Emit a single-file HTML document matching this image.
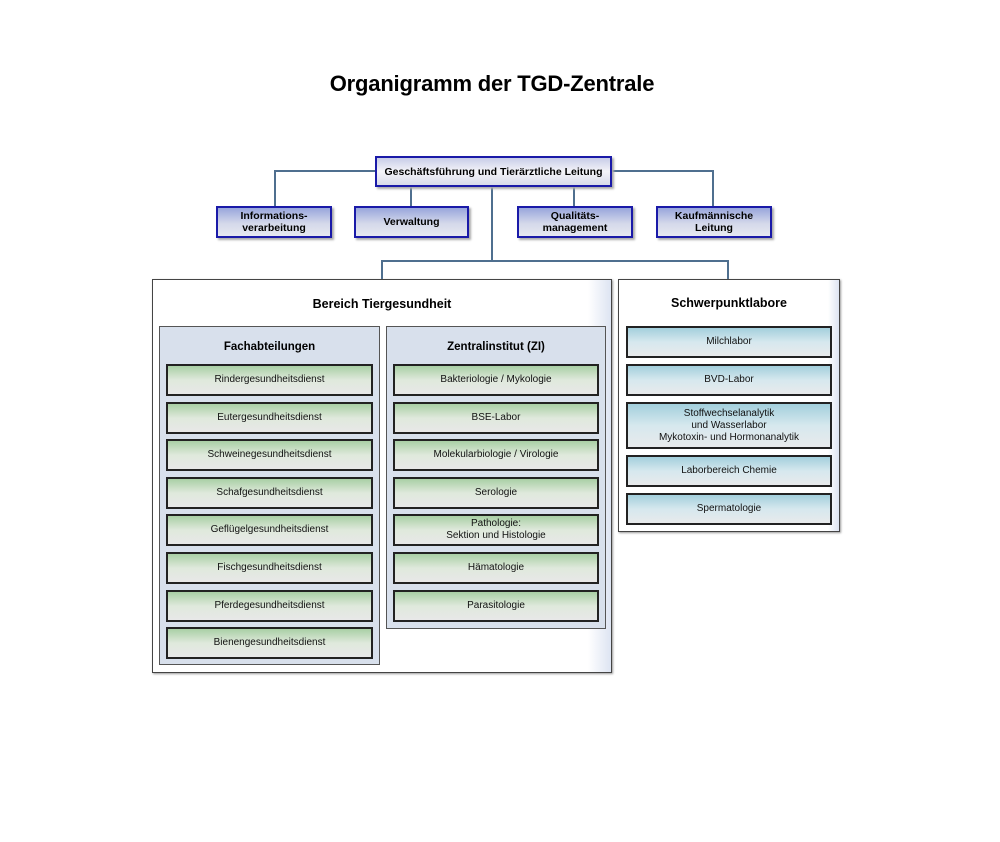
<!DOCTYPE html>
<html><head><meta charset="utf-8"><style>
body{margin:0;width:1000px;height:842px;background:#fff;position:relative;font-family:"Liberation Sans",Arial,sans-serif;overflow:hidden}
div{position:absolute;box-sizing:border-box}
.t{left:-8px;width:1000px;top:71px;text-align:center;font-weight:bold;font-size:22px;color:#000;letter-spacing:-0.2px}
.l{background:#4f6f8f}
.b{border:2px solid #1a1aa8;background:linear-gradient(#98a6dc,#d4d8ea 55%,#e6e8f0);display:flex;align-items:center;justify-content:center;text-align:center;font-weight:bold;font-size:10.5px;line-height:12px;box-shadow:2px 2px 2px #aaa}
.top{background:linear-gradient(#c8cde8,#f4f4f8 50%,#d8dbea)}
.c{border:1px solid #444;background:linear-gradient(90deg,#fff,#fff 95%,#dde4f2);box-shadow:1px 1px 2px #999}
.s{border:1px solid #555;background:#d8e0ec}
.h{font-weight:bold;font-size:12.5px;text-align:center}
.g,.u{border:2px solid #222;display:flex;align-items:center;justify-content:center;text-align:center;font-size:10px;line-height:12px;color:#111}
.g{background:linear-gradient(#a9cfa5,#dfe9dc 50%,#e8e8e8)}
.u{background:linear-gradient(#a3cfdc,#d6e8ee 50%,#e8eaec)}
</style></head><body>
<div class="t">Organigramm der TGD-Zentrale</div>
<div class="l" style="left:275px;top:170px;width:439px;height:1.5px"></div>
<div class="l" style="left:274px;top:170px;width:1.5px;height:37px"></div>
<div class="l" style="left:712px;top:170px;width:1.5px;height:37px"></div>
<div class="l" style="left:410px;top:185px;width:1.5px;height:22px"></div>
<div class="l" style="left:573px;top:185px;width:1.5px;height:22px"></div>
<div class="l" style="left:491px;top:185px;width:1.5px;height:76px"></div>
<div class="l" style="left:382px;top:260px;width:347px;height:1.5px"></div>
<div class="l" style="left:381px;top:260px;width:1.5px;height:20px"></div>
<div class="l" style="left:727px;top:260px;width:1.5px;height:20px"></div>

<div class="b top" style="left:375px;top:156px;width:237px;height:31px">Geschäftsführung und Tierärztliche Leitung</div>
<div class="b" style="left:216px;top:206px;width:116px;height:32px">Informations-<br>verarbeitung</div>
<div class="b" style="left:354px;top:206px;width:115px;height:32px">Verwaltung</div>
<div class="b" style="left:517px;top:206px;width:116px;height:32px">Qualitäts-<br>management</div>
<div class="b" style="left:656px;top:206px;width:116px;height:32px">Kaufmännische<br>Leitung</div>

<div class="c" style="left:152px;top:279px;width:460px;height:394px"></div>
<div class="h" style="left:152px;top:297px;width:460px">Bereich Tiergesundheit</div>
<div class="s" style="left:159px;top:326px;width:221px;height:339px"></div>
<div class="h" style="left:159px;top:341px;width:221px;font-size:11.5px">Fachabteilungen</div>
<div class="s" style="left:386px;top:326px;width:220px;height:303px"></div>
<div class="h" style="left:386px;top:341px;width:220px;font-size:11.5px">Zentralinstitut (ZI)</div>

<div class="g" style="left:166px;top:364px;width:207px;height:32px">Rindergesundheitsdienst</div>
<div class="g" style="left:166px;top:402px;width:207px;height:32px">Eutergesundheitsdienst</div>
<div class="g" style="left:166px;top:439px;width:207px;height:32px">Schweinegesundheitsdienst</div>
<div class="g" style="left:166px;top:477px;width:207px;height:32px">Schafgesundheitsdienst</div>
<div class="g" style="left:166px;top:514px;width:207px;height:32px">Geflügelgesundheitsdienst</div>
<div class="g" style="left:166px;top:552px;width:207px;height:32px">Fischgesundheitsdienst</div>
<div class="g" style="left:166px;top:590px;width:207px;height:32px">Pferdegesundheitsdienst</div>
<div class="g" style="left:166px;top:627px;width:207px;height:32px">Bienengesundheitsdienst</div>

<div class="g" style="left:393px;top:364px;width:206px;height:32px">Bakteriologie / Mykologie</div>
<div class="g" style="left:393px;top:402px;width:206px;height:32px">BSE-Labor</div>
<div class="g" style="left:393px;top:439px;width:206px;height:32px">Molekularbiologie / Virologie</div>
<div class="g" style="left:393px;top:477px;width:206px;height:32px">Serologie</div>
<div class="g" style="left:393px;top:514px;width:206px;height:32px">Pathologie:<br>Sektion und Histologie</div>
<div class="g" style="left:393px;top:552px;width:206px;height:32px">Hämatologie</div>
<div class="g" style="left:393px;top:590px;width:206px;height:32px">Parasitologie</div>

<div class="c" style="left:618px;top:279px;width:222px;height:253px"></div>
<div class="h" style="left:618px;top:296px;width:222px">Schwerpunktlabore</div>
<div class="u" style="left:626px;top:326px;width:206px;height:32px">Milchlabor</div>
<div class="u" style="left:626px;top:364px;width:206px;height:32px">BVD-Labor</div>
<div class="u" style="left:626px;top:402px;width:206px;height:47px">Stoffwechselanalytik<br>und Wasserlabor<br>Mykotoxin- und Hormonanalytik</div>
<div class="u" style="left:626px;top:455px;width:206px;height:32px">Laborbereich Chemie</div>
<div class="u" style="left:626px;top:493px;width:206px;height:32px">Spermatologie</div>
</body></html>
